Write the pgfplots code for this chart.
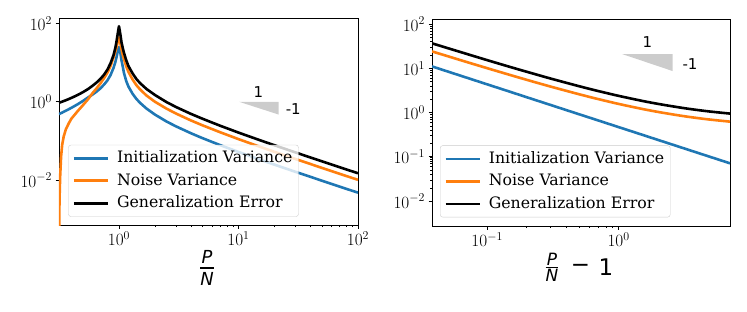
\documentclass[border=0pt]{standalone}
\usepackage{amsmath}
\usepackage{fontspec}
\setmainfont{DejaVu Serif}
\setsansfont{DejaVu Sans}
\usepackage{pgfplots}
\pgfplotsset{compat=1.18}
\definecolor{tabblue}{HTML}{1F77B4}
\definecolor{taborange}{HTML}{FF7F0E}
\definecolor{trigray}{HTML}{CCCCCC}
\begin{document}
\begin{tikzpicture}
\path[use as bounding box] (0,0) rectangle (747bp,312bp);
\begin{axis}[scale only axis, xmode=log, ymode=log, anchor=south west,
  at={(59bp,87bp)}, width=299bp, height=207bp,
  xmin=0.315, xmax=100, ymin=7.1e-4, ymax=138,
  xtick={1,10,100}, ytick={0.01,1,100}, minor ytick={},
  axis line style={line width=0.8bp},
  tick align=outside, tick pos=left,
  major tick length=3.5bp, minor tick length=2bp,
  every tick/.style={black, line width=0.8bp},
  every minor tick/.style={black, line width=0.6bp},
  tick label style={font=\fontsize{17.5}{17.5}\selectfont},
  legend cell align=left,
  legend image code/.code={\draw[#1, line width=2.6bp] (0bp,0bp) -- (34bp,0bp);},
  legend style={font=\fontsize{15.8}{18}\selectfont, draw=black!20, fill=white,
    fill opacity=0.8, text opacity=1, draw opacity=1, rounded corners=2.5bp,
    at={(0.031,0.04)}, anchor=south west, inner xsep=4bp, inner ysep=4bp, row sep=4bp, column sep=6bp,
    nodes={text height=11.5bp, text depth=3bp, inner sep=2bp}}]
\addplot[tabblue, line width=2.6bp, line join=round] coordinates {
(0.315,0.483)(0.33,0.517)(0.36,0.591)(0.40,0.70)(0.45,0.859)(0.50,1.05)(0.55,1.28)
(0.60,1.52)(0.65,1.82)(0.70,2.2)(0.75,2.75)(0.80,3.5)(0.85,4.8)(0.90,7.3)(0.93,10)
(0.95,13)(0.97,17.5)(0.985,22)(1.0,25)(1.015,22)(1.03,17)(1.05,11.5)(1.08,7.5)(1.1,5.5)
(1.15,3.4)(1.2,2.45)(1.3,1.6)(1.4,1.18)(1.5,0.94)(1.7,0.67)(2.0,0.47)(2.5,0.313)(3,0.235)
(4,0.157)(5,0.1175)(7,0.0783)(10,0.0522)(15,0.0336)(20,0.0247)(30,0.0162)(50,0.0096)
(70,0.00681)(100,0.00475)};
\addlegendentry{Initialization Variance}
\addplot[taborange, line width=2.6bp, line join=round] coordinates {
(0.315,0.0001)(0.318,0.003)(0.322,0.012)(0.328,0.04)(0.335,0.08)(0.345,0.13)(0.36,0.2)
(0.38,0.28)(0.40,0.37)(0.45,0.57)(0.50,0.82)(0.55,1.15)(0.60,1.65)(0.65,2.2)(0.70,2.95)
(0.75,4.0)(0.80,5.5)(0.85,8.2)(0.90,13.5)(0.93,18.5)(0.95,23.5)(0.97,31)(0.985,38)(1.0,44)
(1.015,39)(1.03,30)(1.05,22)(1.08,15)(1.1,12.5)(1.15,8)(1.2,5.8)(1.3,3.7)(1.4,2.65)
(1.5,2.08)(1.7,1.44)(2,1.0)(2.5,0.667)(3,0.5)(4,0.333)(5,0.25)(7,0.167)(10,0.111)
(15,0.0714)(20,0.0526)(30,0.0345)(50,0.0204)(70,0.0145)(100,0.0101)};
\addlegendentry{Noise Variance}
\addplot[black, line width=2.6bp, line join=round] coordinates {
(0.315,0.94)(0.33,0.99)(0.36,1.095)(0.40,1.253)(0.45,1.484)(0.50,1.76)(0.55,2.1)
(0.60,2.55)(0.65,3.1)(0.70,3.85)(0.75,4.9)(0.80,6.6)(0.85,9.6)(0.90,15.5)(0.93,23)
(0.95,32)(0.97,48)(0.985,65)(1.0,85)(1.015,66)(1.03,50)(1.05,33)(1.08,22.5)(1.1,18)
(1.15,11.5)(1.2,8.2)(1.3,5.3)(1.4,3.8)(1.5,3.0)(1.7,2.12)(2,1.49)(2.5,0.98)(3,0.735)
(4,0.49)(5,0.368)(7,0.245)(10,0.163)(15,0.105)(20,0.0774)(30,0.0507)(50,0.0300)
(70,0.0213)(100,0.0149)};
\addlegendentry{Generalization Error}
\addplot[fill=trigray, draw=none, forget plot] coordinates {(10.1,1)(21.7,1)(21.7,0.47)} -- cycle;
\end{axis}
\begin{axis}[scale only axis, xmode=log, ymode=log, anchor=south west,
  at={(432bp,86bp)}, width=298bp, height=207bp,
  xmin=0.038, xmax=7.05, ymin=0.00275, ymax=130,
  xtick={0.1,1}, ytick={0.01,0.1,1,10,100},
  axis line style={line width=0.8bp},
  tick align=outside, tick pos=left,
  major tick length=3.5bp, minor tick length=2bp,
  every tick/.style={black, line width=0.8bp},
  every minor tick/.style={black, line width=0.6bp},
  tick label style={font=\fontsize{17.5}{17.5}\selectfont},
  legend cell align=left,
  legend image code/.code={\draw[#1, line width=2.6bp] (0bp,0bp) -- (34bp,0bp);},
  legend style={font=\fontsize{15.8}{18}\selectfont, draw=black!20, fill=white,
    fill opacity=0.8, text opacity=1, draw opacity=1, rounded corners=2.5bp,
    at={(0.027,0.042)}, anchor=south west, inner xsep=4bp, inner ysep=4bp, row sep=4bp, column sep=6bp,
    nodes={text height=11.5bp, text depth=3bp, inner sep=2bp}}]
\addplot[tabblue, line width=2.6bp, smooth] coordinates {
(0.038,11.05)(0.05,8.48)(0.07,6.13)(0.1,4.345)(0.15,2.94)(0.2,2.225)(0.3,1.505)(0.5,0.919)
(0.7,0.665)(1,0.471)(1.5,0.3186)(2,0.2413)(3,0.1632)(4,0.1236)(5,0.0997)(7.05,0.0716)};
\addlegendentry{Initialization Variance}
\addplot[taborange, line width=2.6bp, smooth] coordinates {
(0.038,24.1)(0.05,18.8)(0.07,13.85)(0.1,10.07)(0.15,7.05)(0.2,5.50)(0.3,3.91)(0.5,2.60)
(0.7,2.02)(1,1.572)(1.5,1.217)(2,1.035)(3,0.848)(4,0.753)(5,0.694)(7.05,0.625)};
\addlegendentry{Noise Variance}
\addplot[black, line width=2.6bp, smooth] coordinates {
(0.038,36.7)(0.05,28.6)(0.07,21.1)(0.1,15.3)(0.15,10.7)(0.2,8.36)(0.3,5.94)(0.5,3.95)
(0.7,3.07)(1,2.39)(1.5,1.85)(2,1.573)(3,1.289)(4,1.144)(5,1.055)(7.05,0.95)};
\addlegendentry{Generalization Error}
\addplot[fill=trigray, draw=none, forget plot] coordinates {(1.07,20.9)(2.58,20.9)(2.58,8.67)} -- cycle;
\end{axis}
\node[font=\fontsize{15}{15}\sffamily] at (258.3bp,220.3bp) {1};
\node[font=\fontsize{15}{15}\sffamily] at (293.3bp,203bp) {-1};
\node[font=\fontsize{15}{15}\sffamily] at (647.3bp,269.5bp) {1};
\node[font=\fontsize{15}{15}\sffamily] at (690bp,248.3bp) {-1};
\node at (207bp,44bp) {$\genfrac{}{}{1.2bp}{0}{\mbox{\fontsize{18}{18}\sffamily\itshape P}}{\mbox{\fontsize{18}{18}\sffamily\itshape N}}$};
\node at (552bp,44.3bp) {$\genfrac{}{}{1.2bp}{1}{\mbox{\fontsize{17}{17}\sffamily\itshape P}}{\mbox{\fontsize{17}{17}\sffamily\itshape N}}$};
\node[font=\fontsize{23}{23}\sffamily] at (580.5bp,44bp) {\symbol{"2212}};
\node[font=\fontsize{23}{23}\sffamily] at (606bp,44.5bp) {1};
\end{tikzpicture}
\end{document}
